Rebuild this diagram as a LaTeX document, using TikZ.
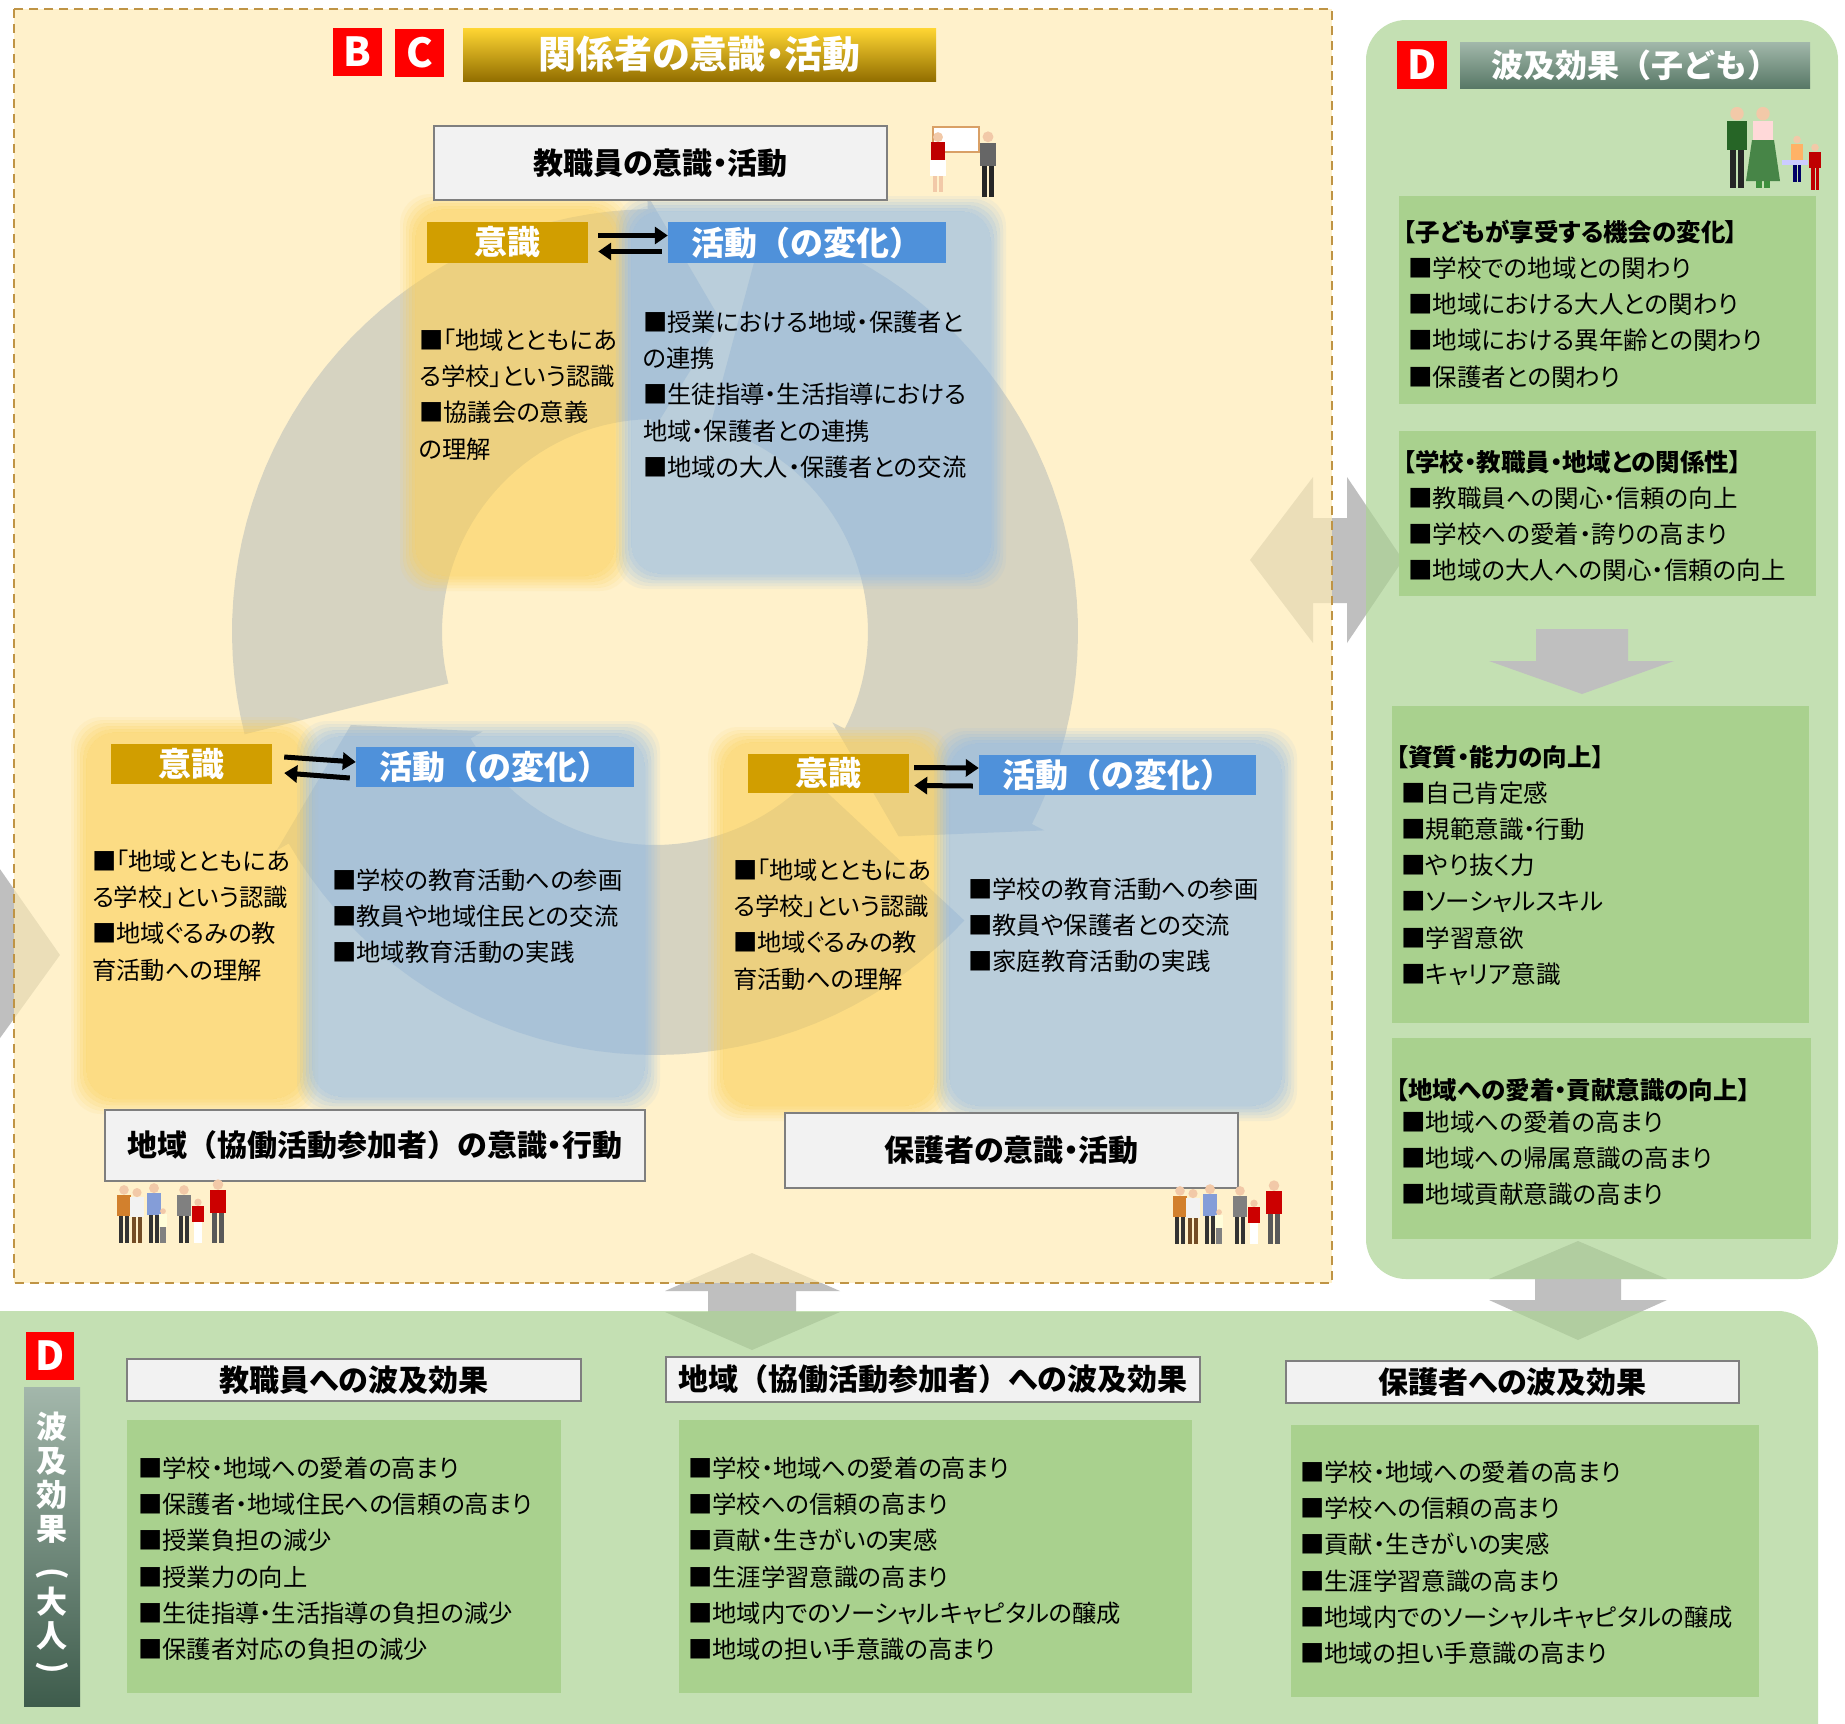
\documentclass[tikz,border=0pt]{standalone}
\usepackage{fontspec}
\newfontfamily\jp{Noto Sans CJK JP}
\newfontfamily\jpp[RawFeature=+palt]{Noto Sans CJK JP}
\usetikzlibrary{arrows.meta}

\definecolor{cream}{HTML}{FFECB6}
\definecolor{dashc}{HTML}{BF9445}
\definecolor{ringc}{HTML}{D6D3C1}
\definecolor{yel}{HTML}{FBCF55}
\definecolor{blu}{HTML}{8CB7E6}
\definecolor{gold}{HTML}{D19E00}
\definecolor{actblue}{HTML}{4F91DA}
\definecolor{pgreen}{HTML}{ACD394}
\definecolor{bgreen}{HTML}{A9D18E}
\definecolor{arrgray}{HTML}{BFBFBF}
\definecolor{tbfill}{HTML}{F2F2F2}
\definecolor{tbline}{HTML}{7F7F7F}
\definecolor{dred}{HTML}{FF0000}
\definecolor{skin}{HTML}{F2C9A8}
\definecolor{wbc}{HTML}{D9A066}
\definecolor{tgtop}{HTML}{A2B8AB}
\definecolor{tgbot}{HTML}{587866}
\definecolor{vbtop}{HTML}{A3B7AB}
\definecolor{vbbot}{HTML}{3E5C4C}

% a small standing person: x, feet y, height, top colour, leg colour
\newcommand\pers[5]{%
  \fill[#5] ({#1-0.085*#3},{#2-0.47*#3}) rectangle ({#1-0.01*#3},#2);
  \fill[#5] ({#1+0.01*#3},{#2-0.47*#3}) rectangle ({#1+0.085*#3},#2);
  \fill[#4] ({#1-0.12*#3},{#2-0.80*#3}) rectangle ({#1+0.12*#3},{#2-0.45*#3});
  \fill[skin] (#1,{#2-0.885*#3}) circle [radius={0.08*#3}];}

% lines of text, one node each: name prefix, style, x, first y, list
\newcommand\txtlines[5]{%
  \foreach \itm [count=\i from 0] in {#5} {\node[#2] (#1\i) at (#3,{#4+36.3*\i}) {\itm};}}

% one band of a soft edge: colour, opacity, x1, y1, x2, y2, outer inset, inner inset
\newcommand\softband[8]{%
  \fill[#1, opacity=#2, even odd rule, rounded corners=30pt]
    ({#3+#7},{#4+#7}) rectangle ({#5-#7},{#6-#7}) ({#3+#8},{#4+#8}) rectangle ({#5-#8},{#6-#8});}
% translucent rounded box with a blurred edge: colour, x1, y1, x2, y2
\newcommand\softbox[5]{%
  \fill[#1, opacity=0.6, rounded corners=30pt] ({#2+9},{#3+9}) rectangle ({#4-9},{#5-9});
  \softband{#1}{0.52}{#2}{#3}{#4}{#5}{6}{9}
  \softband{#1}{0.42}{#2}{#3}{#4}{#5}{3}{6}
  \softband{#1}{0.31}{#2}{#3}{#4}{#5}{0}{3}
  \softband{#1}{0.2}{#2}{#3}{#4}{#5}{-3}{0}
  \softband{#1}{0.09}{#2}{#3}{#4}{#5}{-6}{-3}}

% one segment of the circular arrow: start angle, head base angle, tip angle
\newcommand\ringseg[3]{%
  \fill[ringc] plot[domain=#1:#2,samples=40] ({655+423*cos(\x)},{632+423*sin(\x)})
    -- ({655+437*cos(#2)},{632+437*sin(#2)})
    -- ({655+318*cos(#3)},{632+318*sin(#3)})
    -- ({655+199*cos(#2)},{632+199*sin(#2)})
    -- plot[domain=#2:#1,samples=40] ({655+213*cos(\x)},{632+213*sin(\x)}) -- cycle;}

\begin{document}
\begin{tikzpicture}[x=1pt,y=-1pt,
  tbox/.style={draw=tbline, line width=2pt, fill=tbfill, inner sep=0pt,
    font=\jpp\bfseries\fontsize{30}{32}\selectfont},
  lab/.style={inner sep=0pt, text=white, font=\jp\bfseries\fontsize{33}{34}\selectfont},
  body/.style={inner sep=0pt, anchor=west, font=\jpp\fontsize{24.3}{28}\selectfont},
  gbody/.style={inner sep=0pt, anchor=west, font=\jpp\fontsize{24.5}{28}\selectfont},
  ghead/.style={inner sep=0pt, anchor=west, font=\jpp\bfseries\fontsize{24.5}{28}\selectfont},
  letter/.style={fill=dred, text=white, inner sep=0pt, font=\jp\bfseries\fontsize{40}{40}\selectfont},
  vt/.style={inner sep=0pt, text=white, font=\jp\bfseries\fontsize{31}{31}\selectfont},
  swap/.style={line width=5pt, -{Triangle[length=13pt,width=17pt]}},
]
\useasboundingbox (0,0) rectangle (1845,1724);
\fill[white] (0,0) rectangle (1845,1724);

% ---------- broad grey arrows behind the panels ----------
\fill[arrgray] (-5,862) -- (60,955) -- (-5,1045) -- cycle;
\fill[arrgray] (1250,560) -- (1313,477) -- (1313,518) -- (1347,518) -- (1347,477)
  -- (1403,560) -- (1347,643) -- (1347,603) -- (1313,603) -- (1313,643) -- cycle;
\fill[arrgray] (752,1253) -- (840,1291) -- (796,1291) -- (796,1312) -- (840,1312)
  -- (752,1350) -- (665,1312) -- (708,1312) -- (708,1291) -- (665,1291) -- cycle;
\fill[arrgray] (1578,1241) -- (1667,1279) -- (1621,1279) -- (1621,1300) -- (1667,1300)
  -- (1578,1340) -- (1489,1300) -- (1535,1300) -- (1535,1279) -- (1489,1279) -- cycle;

% ---------- panels ----------
\fill[cream, opacity=0.7] (14,9) rectangle (1332,1283);
\fill[pgreen, opacity=0.7, rounded corners=40pt] (1366,20) rectangle (1838,1279);
\fill[pgreen, opacity=0.7, rounded corners=40pt] (-40,1311) rectangle (1818,1770);
\draw[dashc, line width=2.5pt, dash pattern=on 9pt off 6pt] (14,9) rectangle (1332,1283);

% ---------- circular arrow ----------
\ringseg{-75}{27}{40}
\ringseg{43}{150}{163}
\ringseg{166}{269}{282}

% ---------- header ----------
\node[letter, minimum width=49pt, minimum height=48pt] (lb) at (357.5,51.5) {B};
\node[letter, minimum width=49pt, minimum height=48pt] (lc) at (419.5,52.5) {C};
\node[inner sep=0pt, minimum width=473pt, minimum height=53pt,
  top color=yellow!60!orange!80!white, middle color=gold!95!yellow, bottom color=gold!70!black,
  text=white, font=\jpp\bfseries\fontsize{38}{40}\selectfont] (hd) at (699.5,54.5) {関係者の意識・活動};

% ---------- teachers ----------
\softbox{yel}{406}{200}{624}{585}
\softbox{blu}{622}{202}{1000}{583}
\node[tbox, minimum width=453pt, minimum height=74pt] (tb1) at (660.5,163) {教職員の意識・活動};
\node[lab, fill=gold, minimum width=161pt, minimum height=41pt] (y1) at (507.5,242.5) {意識};
\node[lab, fill=actblue, minimum width=278pt, minimum height=41pt] (b1) at (807,242.5) {活動（の変化）};
\draw[swap] ([xshift=10pt,yshift=7pt]y1.east) -- ([yshift=7pt]b1.west);
\draw[swap] ([xshift=-6pt,yshift=-9pt]b1.west) -- ([xshift=10pt,yshift=-9pt]y1.east);
\txtlines{ta}{body}{419}{340}{{■「地域とともにあ},{る学校」という認識},{■協議会の意義},{の理解}}
\txtlines{tc}{body}{643}{322}{{■授業における地域・保護者と},{の連携},{■生徒指導・生活指導における},{地域・保護者との連携},{■地域の大人・保護者との交流}}
% teacher figures at a whiteboard
\draw[wbc, line width=2pt, fill=white] (933,127) rectangle (979,152);
\pers{938}{192}{62}{red!75!black}{skin}
\fill[white] (930,160) rectangle (946,176);
\pers{988}{197}{68}{gray!80!black}{black!85}

% ---------- community ----------
\softbox{yel}{77}{723}{312}{1108}
\softbox{blu}{303}{727}{654}{1106}
\node[lab, fill=gold, minimum width=161pt, minimum height=40pt] (y2) at (191.5,764) {意識};
\node[lab, fill=actblue, minimum width=278pt, minimum height=40pt] (b2) at (495,767) {活動（の変化）};
\draw[swap] ([xshift=12pt,yshift=7pt]y2.east) -- ([yshift=5pt]b2.west);
\draw[swap] ([xshift=-6pt,yshift=-11pt]b2.west) -- ([xshift=12pt,yshift=-9pt]y2.east);
\txtlines{ca}{body}{92}{861}{{■「地域とともにあ},{る学校」という認識},{■地域ぐるみの教},{育活動への理解}}
\txtlines{cc}{body}{332}{880}{{■学校の教育活動への参画},{■教員や地域住民との交流},{■地域教育活動の実践}}
\node[tbox, minimum width=540pt, minimum height=71pt] (tb2) at (375,1145.5) {地域{\jp（}協働活動参加者{\jp）}の意識・行動};
\begin{scope}
\pers{124}{1243}{60}{brown!70!orange}{black!80}
\pers{137}{1243}{57}{white!90!gray}{brown!60!black}
\pers{154}{1243}{62}{cyan!40!blue!50}{black!80}
\pers{163}{1243}{36}{white!85!yellow}{gray}
\pers{184}{1243}{60}{gray}{black!80}
\pers{198}{1243}{46}{red!80!black}{white}
\pers{218}{1243}{66}{red!80!black}{gray!70!black}
\end{scope}

% ---------- parents ----------
\softbox{yel}{714}{733}{944}{1115}
\softbox{blu}{940}{734}{1291}{1115}
\node[lab, fill=gold, minimum width=161pt, minimum height=39pt] (y3) at (828.5,773.5) {意識};
\node[lab, fill=actblue, minimum width=277pt, minimum height=40pt] (b3) at (1117.5,775) {活動（の変化）};
\draw[swap] ([xshift=5pt,yshift=6pt]y3.east) -- ([yshift=7pt]b3.west);
\draw[swap] ([xshift=-6pt,yshift=-11pt]b3.west) -- ([xshift=5pt,yshift=-12pt]y3.east);
\txtlines{pa}{body}{733}{870}{{■「地域とともにあ},{る学校」という認識},{■地域ぐるみの教},{育活動への理解}}
\txtlines{pc}{body}{968}{889}{{■学校の教育活動への参画},{■教員や保護者との交流},{■家庭教育活動の実践}}
\node[tbox, minimum width=453pt, minimum height=75pt] (tb3) at (1011.5,1150.5) {保護者の意識・活動};
\begin{scope}
\pers{1180}{1244}{60}{brown!70!orange}{black!80}
\pers{1193}{1244}{57}{white!90!gray}{brown!60!black}
\pers{1210}{1244}{62}{cyan!40!blue!50}{black!80}
\pers{1219}{1244}{36}{white!85!yellow}{gray}
\pers{1240}{1244}{60}{gray}{black!80}
\pers{1254}{1244}{46}{red!80!black}{white}
\pers{1274}{1244}{66}{red!80!black}{gray!70!black}
\end{scope}

% ---------- effects on children ----------
\node[letter, minimum width=50pt, minimum height=48pt] (ld) at (1422,65) {D};
\node[inner sep=0pt, minimum width=350pt, minimum height=46pt,
  top color=tgtop, bottom color=tgbot,
  text=white, font=\jp\bfseries\fontsize{32}{33}\selectfont] (kt) at (1635,65) {波及効果（子ども）};
\pers{1737}{188}{84}{green!35!black!70!gray}{black!85}
\pers{1763}{188}{84}{pink!60!white}{green!40!gray!80!black}
\fill[green!30!gray!80!black] (1752,140) -- (1774,140) -- (1780,181) -- (1746,181) -- cycle;
\pers{1797}{182}{48}{orange!60!white}{black!60!blue}
\fill[blue!20!white] (1782,160) rectangle (1808,165);
\pers{1815}{190}{48}{red!75!black}{red!75!black}

\fill[bgreen] (1399,196) rectangle (1816,404);
\node[ghead] (k1h) at (1403,232) {【子どもが享受する機会の変化】};
\txtlines{k1}{gbody}{1408}{268}{{■学校での地域との関わり},{■地域における大人との関わり},{■地域における異年齢との関わり},{■保護者との関わり}}
\fill[bgreen] (1399,431) rectangle (1816,596);
\node[ghead] (k2h) at (1403,462) {【学校・教職員・地域との関係性】};
\txtlines{k2}{gbody}{1408}{498}{{■教職員への関心・信頼の向上},{■学校への愛着・誇りの高まり},{■地域の大人への関心・信頼の向上}}
\fill[arrgray] (1536,629) -- (1628,629) -- (1628,661) -- (1674,661) -- (1582,694)
  -- (1489,661) -- (1536,661) -- cycle;
\fill[bgreen] (1392,706) rectangle (1809,1023);
\node[ghead] (k3h) at (1396,757) {【資質・能力の向上】};
\txtlines{k3}{gbody}{1401}{793}{{■自己肯定感},{■規範意識・行動},{■やり抜く力},{■ソーシャルスキル},{■学習意欲},{■キャリア意識}}
\fill[bgreen] (1392,1038) rectangle (1811,1239);
\node[ghead] (k4h) at (1396,1090) {【地域への愛着・貢献意識の向上】};
\txtlines{k4}{gbody}{1401}{1122}{{■地域への愛着の高まり},{■地域への帰属意識の高まり},{■地域貢献意識の高まり}}

% ---------- effects on adults ----------
\node[letter, minimum width=48pt, minimum height=48pt] (le) at (50,1356) {D};
\node[inner sep=0pt, minimum width=56pt, minimum height=319pt,
  top color=vbtop, bottom color=vbbot] (vb) at (52,1546.5) {};
\node[vt] (v1) at (52,1427) {波};
\node[vt] (v2) at (52,1461) {及};
\node[vt] (v3) at (52,1495) {効};
\node[vt] (v4) at (52,1529) {果};
\node[vt, rotate=-90] (v5) at (52,1574) {(};
\node[vt] (v6) at (52,1602) {大};
\node[vt] (v7) at (52,1636) {人};
\node[vt, rotate=-90] (v8) at (52,1668) {)};

\node[tbox, minimum width=454pt, minimum height=42pt] (hb1) at (354,1380) {教職員への波及効果};
\node[tbox, minimum width=534pt, minimum height=45pt] (hb2) at (933,1379.5) {地域{\jp（}協働活動参加者{\jp）}への波及効果};
\node[tbox, minimum width=453pt, minimum height=42pt] (hb3) at (1512.5,1382) {保護者への波及効果};

\fill[bgreen] (127,1420) rectangle (561,1693);
\fill[bgreen] (679,1420) rectangle (1192,1693);
\fill[bgreen] (1291,1425) rectangle (1759,1697);
\txtlines{a1}{body}{138}{1468}{{■学校・地域への愛着の高まり},{■保護者・地域住民への信頼の高まり},{■授業負担の減少},{■授業力の向上},{■生徒指導・生活指導の負担の減少},{■保護者対応の負担の減少}}
\txtlines{a2}{body}{688}{1468}{{■学校・地域への愛着の高まり},{■学校への信頼の高まり},{■貢献・生きがいの実感},{■生涯学習意識の高まり},{■地域内でのソーシャルキャピタルの醸成},{■地域の担い手意識の高まり}}
\txtlines{a3}{body}{1300}{1472}{{■学校・地域への愛着の高まり},{■学校への信頼の高まり},{■貢献・生きがいの実感},{■生涯学習意識の高まり},{■地域内でのソーシャルキャピタルの醸成},{■地域の担い手意識の高まり}}
\end{tikzpicture}
\end{document}
